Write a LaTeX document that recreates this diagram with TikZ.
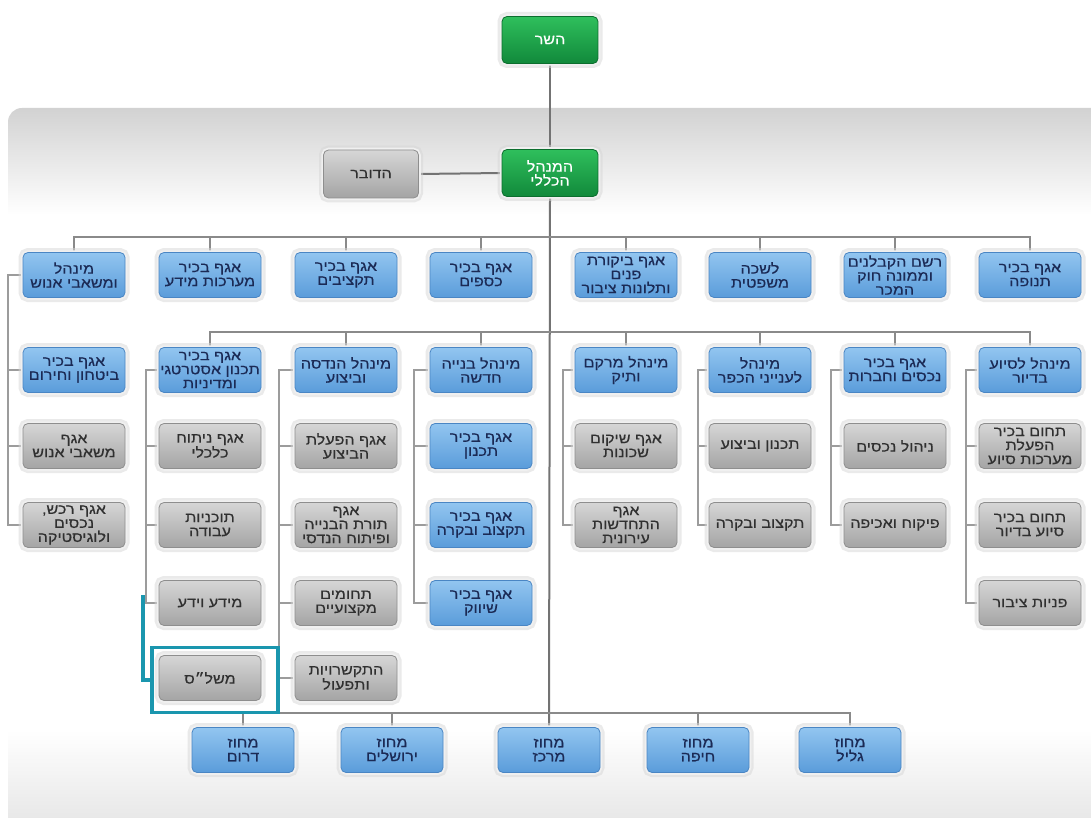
\documentclass[tikz,border=0pt]{standalone}
\usepackage{fontspec}
\newfontfamily\hebfont[Script=Hebrew, FakeStretch=1.15, FakeBold=0.4]{Liberation Sans}
\TeXXeTstate=1
\newcommand\hebl[1]{\beginR #1\endR}
\usetikzlibrary{calc}

\definecolor{blueTop}{HTML}{92C5F0}
\definecolor{blueBot}{HTML}{5A9CDA}
\definecolor{blueEdge}{HTML}{4A86C4}
\definecolor{blueText}{HTML}{1B2A55}
\definecolor{grayTop}{HTML}{D6D6D6}
\definecolor{grayBot}{HTML}{A4A4A4}
\definecolor{grayEdge}{HTML}{8E8E8E}
\definecolor{grayText}{HTML}{303030}
\definecolor{greenTop}{HTML}{2FBF5C}
\definecolor{greenBot}{HTML}{11893B}
\definecolor{greenEdge}{HTML}{0C6E2E}
\definecolor{panelTop}{HTML}{D2D2D2}
\definecolor{panelBot}{HTML}{E8E8E8}
\definecolor{wire}{HTML}{8A8A8A}
\definecolor{hilite}{HTML}{1A96AE}

\pgfdeclarelayer{panel}
\pgfdeclarelayer{wires}
\pgfsetlayers{panel,wires,main}

\tikzset{
  x=1pt, y=-1pt,
  box/.style={rounded corners=5pt, minimum width=102pt, minimum height=45pt,
    inner sep=1pt, align=center, line width=.8pt,
    font=\hebfont\fontsize{14}{14}\selectfont,
    preaction={draw=black!16, line width=9pt, opacity=.5},
    preaction={draw=white!94!black, line width=4.5pt}},
  bluebox/.style={box, top color=blueTop, bottom color=blueBot, draw=blueEdge, text=blueText},
  graybox/.style={box, top color=grayTop, bottom color=grayBot, draw=grayEdge, text=grayText},
  greenbox/.style={box, minimum width=96pt, minimum height=47pt,
    top color=greenTop, bottom color=greenBot, draw=greenEdge, text=white},
  bus/.style={draw=wire, line width=2pt},
  spine/.style={draw=wire!85, line width=1.1pt},
  trunk/.style={draw=wire!120, line width=2pt},
  frame/.style={draw=hilite, line width=3.5pt, minimum width=126pt, minimum height=65pt},
  bracket/.style={draw=hilite, line width=3.5pt}
}

\begin{document}
\begin{tikzpicture}
\useasboundingbox (0,0) rectangle (1091,818);

% backdrop panel with soft gradient at top and bottom
\begin{pgfonlayer}{panel}
  \fill[white] (0,0) rectangle (1091,818);
  \begin{scope}
    \clip[rounded corners=14pt] (8,108) rectangle (1120,840);
    \fill[white] (0,108) rectangle (1120,840);
    \shade[top color=panelTop, bottom color=white] (0,108) rectangle (1120,215);
    \shade[top color=white, bottom color=panelBot] (0,730) rectangle (1120,818);
  \end{scope}
\end{pgfonlayer}

% top management
\node[greenbox] (min) at (550,40) {\hebl{השר}};
\node[greenbox] (dg)  at (550,173) {\hebl{המנהל}\\\hebl{הכללי}};
\node[graybox, minimum width=95pt, minimum height=48pt] (spk) at (371,174) {\hebl{הדובר}};

% first row
\node[bluebox] (a1) at (74,275)   {\hebl{מינהל}\\\hebl{ומשאבי אנוש}};
\node[bluebox] (a2) at (210,275)  {\hebl{אגף בכיר}\\\hebl{מערכות מידע}};
\node[bluebox] (a3) at (346,275)  {\hebl{אגף בכיר}\\\hebl{תקציבים}};
\node[bluebox] (a4) at (481,275)  {\hebl{אגף בכיר}\\\hebl{כספים}};
\node[bluebox] (a5) at (626,275)  {\hebl{אגף ביקורת}\\\hebl{פנים}\\\hebl{ותלונות ציבור}};
\node[bluebox] (a6) at (760,275)  {\hebl{לשכה}\\\hebl{משפטית}};
\node[bluebox] (a7) at (895,275)  {\hebl{רשם הקבלנים}\\\hebl{וממונה חוק}\\\hebl{המכר}};
\node[bluebox] (a8) at (1030,275) {\hebl{אגף בכיר}\\\hebl{תנופה}};

% second row
\node[bluebox] (b1) at (74,370)   {\hebl{אגף בכיר}\\\hebl{ביטחון וחירום}};
\node[bluebox] (b2) at (210,370)  {\hebl{אגף בכיר}\\\hebl{תכנון אסטרטגי}\\\hebl{ומדיניות}};
\node[bluebox] (b3) at (346,370)  {\hebl{מינהל הנדסה}\\\hebl{וביצוע}};
\node[bluebox] (b4) at (481,370)  {\hebl{מינהל בנייה}\\\hebl{חדשה}};
\node[bluebox] (b5) at (626,370)  {\hebl{מינהל מרקם}\\\hebl{ותיק}};
\node[bluebox] (b6) at (760,370)  {\hebl{מינהל}\\\hebl{לענייני הכפר}};
\node[bluebox] (b7) at (895,370)  {\hebl{אגף בכיר}\\\hebl{נכסים וחברות}};
\node[bluebox] (b8) at (1030,370) {\hebl{מינהל לסיוע}\\\hebl{בדיור}};

% third row
\node[graybox] (c1) at (74,446)   {\hebl{אגף}\\\hebl{משאבי אנוש}};
\node[graybox] (c2) at (210,446)  {\hebl{אגף ניתוח}\\\hebl{כלכלי}};
\node[graybox] (c3) at (346,446)  {\hebl{אגף הפעלת}\\\hebl{הביצוע}};
\node[bluebox] (c4) at (481,446)  {\hebl{אגף בכיר}\\\hebl{תכנון}};
\node[graybox] (c5) at (626,446)  {\hebl{אגף שיקום}\\\hebl{שכונות}};
\node[graybox] (c6) at (760,446)  {\hebl{תכנון וביצוע}};
\node[graybox] (c7) at (895,446)  {\hebl{ניהול נכסים}};
\node[graybox] (c8) at (1030,446) {\hebl{תחום בכיר}\\\hebl{הפעלת}\\\hebl{מערכות סיוע}};

% fourth row
\node[graybox] (d1) at (74,525)   {\hebl{אגף רכש,}\\\hebl{נכסים}\\\hebl{ולוגיסטיקה}};
\node[graybox] (d2) at (210,525)  {\hebl{תוכניות}\\\hebl{עבודה}};
\node[graybox] (d3) at (346,525)  {\hebl{אגף}\\\hebl{תורת הבנייה}\\\hebl{ופיתוח הנדסי}};
\node[bluebox] (d4) at (481,525)  {\hebl{אגף בכיר}\\\hebl{תקצוב ובקרה}};
\node[graybox] (d5) at (626,525)  {\hebl{אגף}\\\hebl{התחדשות}\\\hebl{עירונית}};
\node[graybox] (d6) at (760,525)  {\hebl{תקצוב ובקרה}};
\node[graybox] (d7) at (895,525)  {\hebl{פיקוח ואכיפה}};
\node[graybox] (d8) at (1030,525) {\hebl{תחום בכיר}\\\hebl{סיוע בדיור}};

% fifth row
\node[graybox] (e2) at (210,603)  {\hebl{מידע וידע}};
\node[graybox] (e3) at (346,603)  {\hebl{תחומים}\\\hebl{מקצועיים}};
\node[bluebox] (e4) at (481,603)  {\hebl{אגף בכיר}\\\hebl{שיווק}};
\node[graybox] (e8) at (1030,603) {\hebl{פניות ציבור}};

% sixth row
\node[graybox] (f2) at (210,678)  {\hebl{משל״ס}};
\node[graybox] (f3) at (346,678)  {\hebl{התקשרויות}\\\hebl{ותפעול}};

% districts
\node[bluebox] (g1) at (243,750) {\hebl{מחוז}\\\hebl{דרום}};
\node[bluebox] (g2) at (392,750) {\hebl{מחוז}\\\hebl{ירושלים}};
\node[bluebox] (g3) at (549,750) {\hebl{מחוז}\\\hebl{מרכז}};
\node[bluebox] (g4) at (698,750) {\hebl{מחוז}\\\hebl{חיפה}};
\node[bluebox] (g5) at (850,750) {\hebl{מחוז}\\\hebl{גליל}};

% connectors
\coordinate (busA) at (549,237);
\coordinate (busB) at (549,332);
\coordinate (busC) at (549,713);
\coordinate (s1) at (8,0);
\coordinate (s2) at (146,0);
\coordinate (s3) at (279,0);
\coordinate (s4) at (414,0);
\coordinate (s5) at (563,0);
\coordinate (s6) at (698,0);
\coordinate (s7) at (831,0);
\coordinate (s8) at (966,0);

\begin{pgfonlayer}{wires}
  \draw[trunk] (min.south) -- (dg.north);
  \draw[trunk] (spk.east) -- (dg.west);
  \draw[trunk] (dg.south) -- (g3.north);

  \draw[bus] (a1.north) |- (busA) -| (a8.north);
  \foreach \n in {a2,a3,a4,a5,a6,a7} \draw[bus] (\n.north) -- (\n.north |- busA);

  \draw[bus] (b2.north) |- (busB) -| (b8.north);
  \foreach \n in {b3,b4,b5,b6,b7} \draw[bus] (\n.north) -- (\n.north |- busB);

  \draw[bus] (g1.north) |- (busC) -| (g5.north);
  \foreach \n in {g2,g4} \draw[bus] (\n.north) -- (\n.north |- busC);

  % side spines from each head down to its units
  \draw[spine] (a1.west) -- (a1.west -| s1) -- (d1.west -| s1) -- (d1.west);
  \foreach \n in {b1,c1} \draw[spine] (\n.west) -- (\n.west -| s1);

  \draw[spine] (b2.west) -- (b2.west -| s2) -- (e2.west -| s2) -- (e2.west);
  \foreach \n in {c2,d2} \draw[spine] (\n.west) -- (\n.west -| s2);

  \draw[spine] (b3.west) -- (b3.west -| s3) -- (f3.west -| s3) -- (f3.west);
  \foreach \n in {c3,d3,e3} \draw[spine] (\n.west) -- (\n.west -| s3);

  \draw[spine] (b4.west) -- (b4.west -| s4) -- (e4.west -| s4) -- (e4.west);
  \foreach \n in {c4,d4} \draw[spine] (\n.west) -- (\n.west -| s4);

  \draw[spine] (b5.west) -- (b5.west -| s5) -- (d5.west -| s5) -- (d5.west);
  \draw[spine] (c5.west) -- (c5.west -| s5);

  \draw[spine] (b6.west) -- (b6.west -| s6) -- (d6.west -| s6) -- (d6.west);
  \draw[spine] (c6.west) -- (c6.west -| s6);

  \draw[spine] (b7.west) -- (b7.west -| s7) -- (d7.west -| s7) -- (d7.west);
  \draw[spine] (c7.west) -- (c7.west -| s7);

  \draw[spine] (b8.west) -- (b8.west -| s8) -- (e8.west -| s8) -- (e8.west);
  \foreach \n in {c8,d8} \draw[spine] (\n.west) -- (\n.west -| s8);
\end{pgfonlayer}

% highlighted unit
\node[frame] (hl) at (215,680) {};
\coordinate (tk) at (143,595);
\draw[bracket] (tk) |- (hl.west);
\end{tikzpicture}
\end{document}
